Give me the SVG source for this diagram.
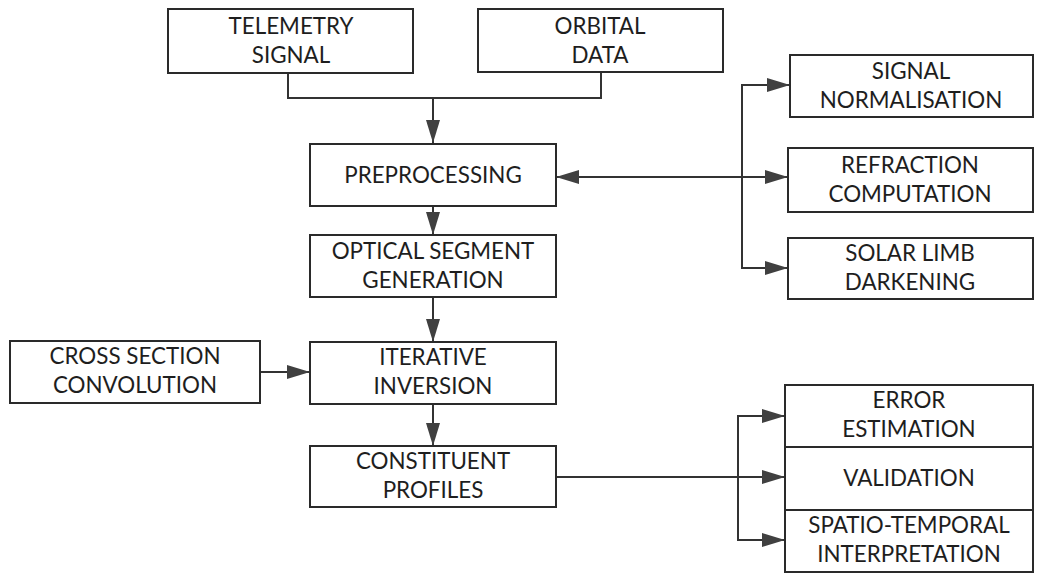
<svg xmlns="http://www.w3.org/2000/svg" width="1037" height="574" viewBox="0 0 1037 574">
<style>
.box{fill:#fff;stroke:#2a2a2a;stroke-width:2}
.t{font-family:Lato,"Open Sans","Liberation Sans",sans-serif;font-size:22.4px;fill:#1e1e1e;text-anchor:middle}
.c{fill:none;stroke:#333;stroke-width:2}
</style>
<defs>
<marker id="ah" viewBox="0 0 23 14" markerWidth="23" markerHeight="14" refX="23" refY="7" orient="auto-start-reverse" markerUnits="userSpaceOnUse">
<path d="M0,0 L23,7 L0,14 z" fill="#404040"/>
</marker>
</defs>
<rect width="1037" height="574" fill="#fff"/>
<g id="connectors">
<path class="c" d="M288,73 V98 H601 V72"/>
<path class="c" d="M433,98 V143" marker-end="url(#ah)"/>
<path class="c" d="M433,206 V235" marker-end="url(#ah)"/>
<path class="c" d="M433,297 V342" marker-end="url(#ah)"/>
<path class="c" d="M260,372 H310" marker-end="url(#ah)"/>
<path class="c" d="M433,404 V446" marker-end="url(#ah)"/>
<path class="c" d="M556,177 H788" marker-start="url(#ah)" marker-end="url(#ah)"/>
<path class="c" d="M742,177 V85 H790" marker-end="url(#ah)"/>
<path class="c" d="M742,177 V268 H788" marker-end="url(#ah)"/>
<path class="c" d="M556,477 H785" marker-end="url(#ah)"/>
<path class="c" d="M738,478 V416 H785" marker-end="url(#ah)"/>
<path class="c" d="M738,478 V540 H785" marker-end="url(#ah)"/>
</g>
<g id="telemetry"><rect class="box" x="168" y="9" width="245" height="64"/><text class="t" x="291" y="34">TELEMETRY</text><text class="t" x="291" y="63">SIGNAL</text></g>
<g id="orbital"><rect class="box" x="478" y="9" width="245" height="63"/><text class="t" x="600" y="34">ORBITAL</text><text class="t" x="600" y="63">DATA</text></g>
<g id="preprocessing"><rect class="box" x="310" y="144" width="246" height="62"/><text class="t" x="433" y="183">PREPROCESSING</text></g>
<g id="optical"><rect class="box" x="310" y="235" width="246" height="62"/><text class="t" x="433" y="259">OPTICAL SEGMENT</text><text class="t" x="433" y="288">GENERATION</text></g>
<g id="cross"><rect class="box" x="10" y="341" width="250" height="62"/><text class="t" x="135" y="364">CROSS SECTION</text><text class="t" x="135" y="393">CONVOLUTION</text></g>
<g id="iterative"><rect class="box" x="310" y="342" width="246" height="62"/><text class="t" x="433" y="365">ITERATIVE</text><text class="t" x="433" y="394">INVERSION</text></g>
<g id="constituent"><rect class="box" x="310" y="446" width="246" height="61"/><text class="t" x="433" y="469">CONSTITUENT</text><text class="t" x="433" y="498">PROFILES</text></g>
<g id="signalnorm"><rect class="box" x="790" y="55" width="243" height="62"/><text class="t" x="911" y="79">SIGNAL</text><text class="t" x="911" y="108">NORMALISATION</text></g>
<g id="refraction"><rect class="box" x="788" y="148" width="245" height="64"/><text class="t" x="910" y="173">REFRACTION</text><text class="t" x="910" y="202">COMPUTATION</text></g>
<g id="solar"><rect class="box" x="788" y="238" width="245" height="61"/><text class="t" x="910" y="261">SOLAR LIMB</text><text class="t" x="910" y="290">DARKENING</text></g>
<g id="error"><rect class="box" x="785" y="385" width="248" height="62"/><text class="t" x="909" y="408">ERROR</text><text class="t" x="909" y="437">ESTIMATION</text></g>
<g id="validation"><rect class="box" x="785" y="447" width="248" height="63"/><text class="t" x="909" y="486">VALIDATION</text></g>
<g id="spatio"><rect class="box" x="785" y="510" width="248" height="62"/><text class="t" x="909" y="533">SPATIO-TEMPORAL</text><text class="t" x="909" y="562">INTERPRETATION</text></g>
</svg>
